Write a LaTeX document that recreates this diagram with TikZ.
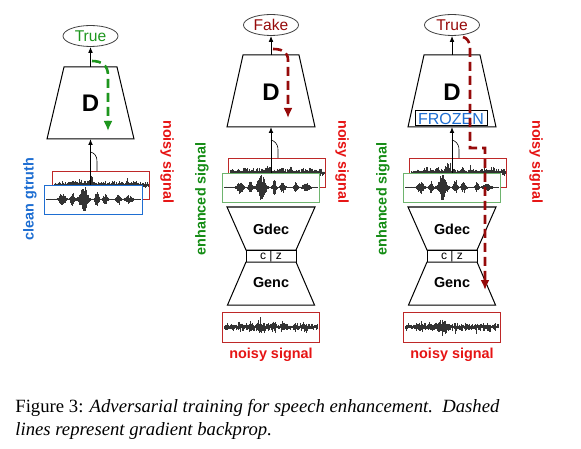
\documentclass[tikz,border=0pt]{standalone}
\usepackage{fontspec}
\setmainfont{Liberation Serif}
\setsansfont{Liberation Sans}
\usetikzlibrary{arrows.meta,shapes.geometric}
\definecolor{gT}{RGB}{30,150,30}
\definecolor{dred}{RGB}{150,10,10}
\definecolor{lred}{RGB}{230,20,20}
\definecolor{lgreen}{RGB}{20,140,20}
\definecolor{cblue}{RGB}{30,110,210}
\definecolor{nred}{RGB}{190,40,40}
\definecolor{egreen}{RGB}{110,180,110}
\newcommand\wavC[3]{\foreach \wi in {0,...,240}{\pgfmathsetmacro\wt{\wi/240}\pgfmathsetmacro\wa{cenv(\wt)*(0.35+0.65*rnd)}\pgfmathsetmacro\wb{cenv(\wt)*(0.35+0.65*rnd)}\draw[wave] ({#1+\wt*#3},{#2-\wa}) -- ({#1+\wt*#3},{#2+\wb});}}
\newcommand\wavN[3]{\foreach \wi in {0,...,240}{\pgfmathsetmacro\wt{\wi/240}\pgfmathsetmacro\wa{nenv(\wt)*(0.15+0.85*rnd*rnd)}\pgfmathsetmacro\wb{nenv(\wt)*(0.15+0.85*rnd*rnd)}\draw[wave] ({#1+\wt*#3},{#2-\wa}) -- ({#1+\wt*#3},{#2+\wb});}}
\newcommand\genpanel[5]{%
\begin{scope}[shift={(#2,0)}]
\node[outp, text=#5] (#1e) at (0,25) {#4};
\coordinate (#1dtl) at (-28,55); \coordinate (#1dtr) at (28,55);
\coordinate (#1dbr) at (44,127); \coordinate (#1dbl) at (-44,127);
\draw[trap] (#1dtl)--(#1dtr)--(#1dbr)--(#1dbl)--cycle;
\node[Dfont] (#1D) at (0,92) {D};
\coordinate (#1dtop) at (0,55); \coordinate (#1dbot) at (0,127);
\draw[fwd] (#1dtop) -- (#1e.south);
\node[sig, draw=nred, minimum width=48.5pt, minimum height=14.5pt, anchor=north west] (#1n) at (-43,158) {};
\wavN{-41}{172.5}{94}
\node[sig, draw=egreen, minimum width=48.5pt, minimum height=14.5pt, anchor=north west] (#1g) at (-49,173) {};
\wavC{-47}{187.5}{93}
\coordinate (#1gtop) at (0,173);
\draw[fwd] (#1gtop) -- (#1dbot);
\coordinate (#1nj) at (7,158); \coordinate (#1j) at (0,140);
\draw[thinl] (#1nj) -- ++(0,-8) .. controls (7,143) and (3,141) .. (#1j);
\coordinate (#1a) at (-44,207); \coordinate (#1b) at (44,207);
\coordinate (#1c) at (25,250); \coordinate (#1d) at (-25,250);
\draw[trap] (#1a)--(#1b)--(#1c)--(#1d)--cycle;
\node[lbl] (#1gdec) at (0,229) {Gdec};
\node[draw, line width=0.5pt, minimum width=25pt, minimum height=6pt, inner sep=0pt, font=\sffamily\fontsize{6}{7}\selectfont] (#1cz) at (0,256) {c\ |\ z};
\coordinate (#1f) at (-25,262); \coordinate (#1g2) at (25,262);
\coordinate (#1h) at (43.5,305); \coordinate (#1i) at (-43.5,305);
\draw[trap] (#1f)--(#1g2)--(#1h)--(#1i)--cycle;
\node[lbl] (#1genc) at (0,283) {Genc};
\node[sig, draw=nred, minimum width=48.5pt, minimum height=15pt, anchor=north west] (#1in) at (-49,312) {};
\wavN{-47}{327}{93}
\node[lbl, text=lred] (#1inl) at (0,355) {noisy signal};
\node[lbl, text=lgreen, rotate=90] (#1el) at (-69,199) {enhanced signal};
\node[lbl, text=lred, rotate=-90] (#1nl) at (#3,162) {noisy signal};
\end{scope}}
\begin{document}
\begin{tikzpicture}[x=0.5pt,y=-0.5pt,
  declare function={bump(\t,\c,\w)=exp(-(((\t-\c)/\w)*((\t-\c)/\w)));
    cenv(\t)=0.6+6*bump(\t,0.17,0.035)+7*bump(\t,0.28,0.02)+13*bump(\t,0.40,0.045)+8*bump(\t,0.54,0.02)+5.5*bump(\t,0.63,0.025)+5*bump(\t,0.77,0.02)+4*bump(\t,0.88,0.04);
    nenv(\t)=4+0.55*cenv(\t);},
  trap/.style={draw=black, line width=0.5pt, fill=white},
  lbl/.style={font=\sffamily\bfseries\fontsize{7.2}{8}\selectfont, inner sep=0pt},
  Dfont/.style={font=\sffamily\bfseries\fontsize{12}{14}\selectfont, inner sep=0pt},
  outp/.style={draw=black!75, ellipse, line width=0.4pt, minimum width=27.5pt, minimum height=10.5pt, inner sep=0pt, font=\sffamily\fontsize{7.8}{9}\selectfont},
  sig/.style={line width=0.5pt, fill=white, inner sep=0pt},
  wave/.style={line width=0.25pt, black!80},
  fwd/.style={-{Latex[length=3pt,width=2.4pt]}, line width=0.5pt},
  thinl/.style={line width=0.3pt},
  bp/.style={dash pattern=on 4.5pt off 2.5pt, line width=1.3pt, -{Latex[length=5pt,width=4.5pt]}}]
\useasboundingbox (0,0) rectangle (581,448);
\pgfmathsetseed{7}
% ---------- panel 1
\node[outp, text=gT] (e1) at (90.5,36) {True};
\coordinate (d1tl) at (64,67); \coordinate (d1tr) at (117,67);
\coordinate (d1br) at (134,139); \coordinate (d1bl) at (47,139);
\draw[trap] (d1tl)--(d1tr)--(d1br)--(d1bl)--cycle;
\node[Dfont] (D1) at (90.5,103) {D};
\coordinate (d1top) at (90.5,67); \coordinate (d1bot) at (90.5,139);
\draw[fwd] (d1top) -- (e1.south);
\node[sig, draw=nred, minimum width=48.5pt, minimum height=14pt, anchor=north west] (n1) at (52,171) {};
\wavN{54}{185}{94}
\node[sig, draw=cblue, minimum width=49pt, minimum height=14.5pt, anchor=north west] (c1) at (44,185) {};
\wavC{46}{199.5}{94}
\coordinate (c1top) at (90.5,185);
\draw[fwd] (c1top) -- (d1bot);
\coordinate (n1j) at (97,171); \coordinate (j1) at (90.5,152);
\draw[thinl] (n1j) -- ++(0,-9) .. controls (97,155) and (94,153) .. (j1);
\node[lbl, text=cblue, rotate=90] (lc1) at (30,199) {clean gtruth};
\node[lbl, text=lred, rotate=-90] (ln1) at (167,162) {noisy signal};
\coordinate (b1s) at (92,61); \coordinate (b1m) at (108,75); \coordinate (b1e) at (108,131);
\draw[bp, draw=gT] (b1s) .. controls (101,61) and (108,65) .. (b1m) -- (b1e);
% ---------- panel 2
\genpanel{p}{271}{71}{Fake}{dred}
\coordinate (b2s) at (273,49); \coordinate (b2m) at (288,60); \coordinate (b2e) at (288,118);
\draw[bp, draw=dred] (b2s) .. controls (282,49) and (288,52) .. (b2m) -- (b2e);
% ---------- panel 3
\genpanel{q}{452}{84}{True}{dred}
\node[draw=black, line width=0.5pt, fill=white, minimum width=36pt, minimum height=7.5pt, inner sep=0pt, text=cblue, font=\sffamily\fontsize{8}{9}\selectfont] (frz) at (451,118.5) {FROZEN};
\coordinate (b3s) at (463,37); \coordinate (b3m) at (470,48); \coordinate (b3k) at (470,148);
\coordinate (b3l) at (485,148); \coordinate (b3e) at (485,290);
\draw[bp, draw=dred] (b3s) .. controls (467,38) and (470,42) .. (b3m) -- (b3k) -- (b3l) -- (b3e);
% ---------- caption
\node[anchor=base west, inner sep=0pt, font=\fontsize{9.35}{11}\selectfont] (cap1) at (15,412) {Figure 3: \textit{Adversarial training for speech enhancement.\ \ Dashed}};
\node[anchor=base west, inner sep=0pt, font=\fontsize{9.35}{11}\selectfont] (cap2) at (15,435) {\textit{lines represent gradient backprop.}};
\end{tikzpicture}
\end{document}
